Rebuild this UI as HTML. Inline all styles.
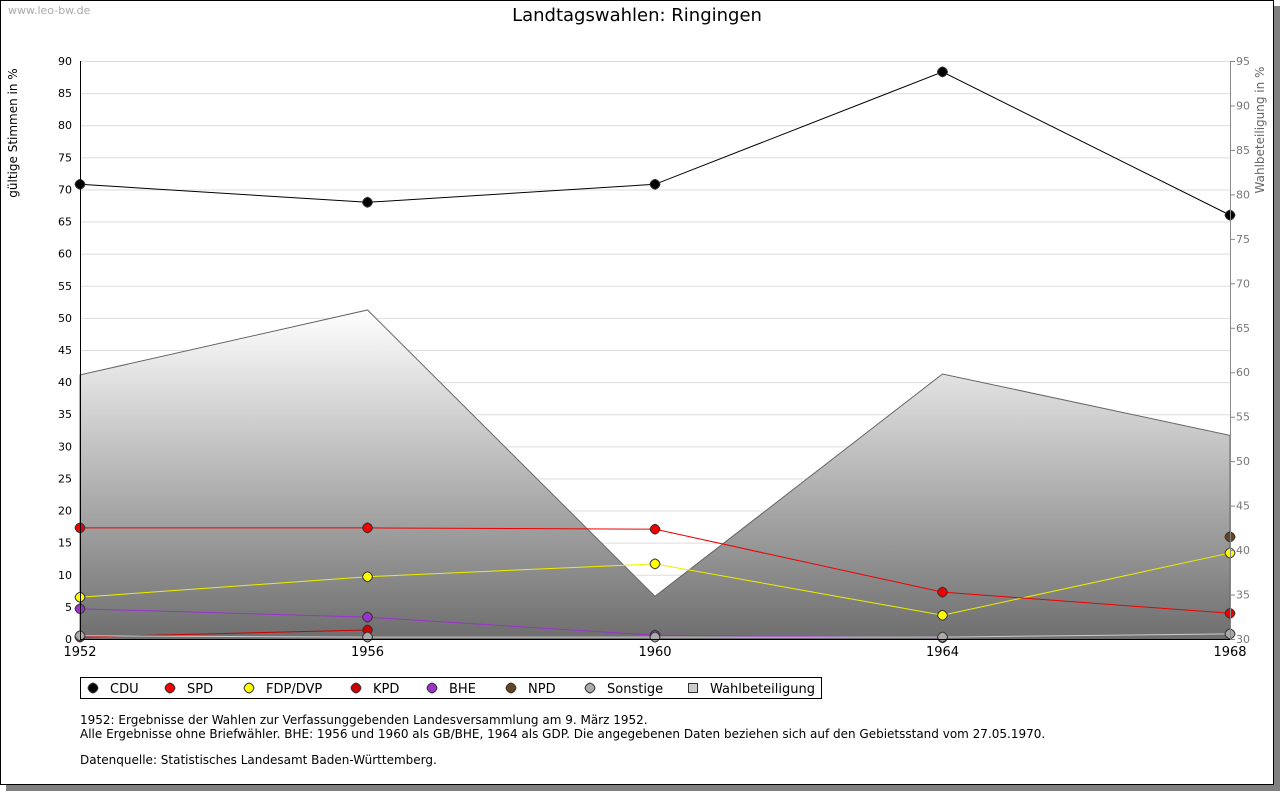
<!DOCTYPE html>
<html><head><meta charset="utf-8"><style>
body{margin:0;background:#fff;width:1280px;height:791px;overflow:hidden;font-family:"Liberation Sans","DejaVu Sans",sans-serif}
svg text{font-family:"DejaVu Sans","Liberation Sans",sans-serif}
</style></head><body>
<svg id="c" width="1280" height="791" xmlns="http://www.w3.org/2000/svg">
<defs>
<linearGradient id="wg" gradientUnits="userSpaceOnUse" x1="0" y1="310" x2="0" y2="639"><stop offset="0" stop-color="#ffffff"/><stop offset="1" stop-color="#6e6e6e"/></linearGradient></defs>
<rect x="6" y="6" width="1274" height="785" fill="#808080"/>
<rect x="0.5" y="0.5" width="1273" height="784" fill="#fff" stroke="#000"/>
<text x="8" y="14" font-size="11" fill="#aaa">www.leo-bw.de</text>
<text x="637" y="21" font-size="18" text-anchor="middle">Landtagswahlen: Ringingen</text>
<g id="grid"></g>
<g id="area"></g>
<g id="lines"></g>
<g id="axes"></g>
<text transform="translate(17,133) rotate(-90)" font-size="12" text-anchor="middle">gültige Stimmen in %</text>
<text transform="translate(1264,130) rotate(-90)" font-size="12" fill="#666" text-anchor="middle">Wahlbeteiligung in %</text>
<g>
<rect x="80.5" y="677.5" width="741" height="21" fill="#fff" stroke="#000"/>
<g id="leg"></g></g>
<g font-size="12">
<text x="80" y="724">1952: Ergebnisse der Wahlen zur Verfassunggebenden Landesversammlung am 9. März 1952.</text>
<text x="80" y="738">Alle Ergebnisse ohne Briefwähler. BHE: 1956 und 1960 als GB/BHE, 1964 als GDP. Die angegebenen Daten beziehen sich auf den Gebietsstand vom 27.05.1970.</text>
<text x="80" y="764">Datenquelle: Statistisches Landesamt Baden-Württemberg.</text></g>
</svg>
<script>
const years=[1952,1956,1960,1964,1968];
const cdu=[70.8,68.0,70.8,88.3,66.0];
const spd=[17.3,17.3,17.1,7.3,4.0];
const fdp=[6.5,9.7,11.7,3.7,13.4];
const kpd=[0.3,1.4,null,null,null];
const bhe=[4.7,3.4,0.6,0.2,null];
const npd=[null,null,null,null,15.9];
const sonst=[0.5,0.3,0.3,0.3,0.8];
const turnout=[59.7,67.0,34.8,59.8,52.9];
const leftTicks=[0,5,10,15,20,25,30,35,40,45,50,55,60,65,70,75,80,85,90];
const rightTicks=[30,35,40,45,50,55,60,65,70,75,80,85,90,95];
const NS='http://www.w3.org/2000/svg';
const X0=80,X1=1230,YB=639,YT=61;
const x=i=>X0+(years[i]-years[0])/(years[years.length-1]-years[0])*(X1-X0);
const y=v=>YB-v/90*(YB-YT);
const y2=v=>YB-(v-30)/65*(YB-YT);
function mk(t,a,p){const e=document.createElementNS(NS,t);for(const k in a)e.setAttribute(k,a[k]);document.getElementById(p).appendChild(e);return e;}
leftTicks.forEach(v=>{const l=mk('line',{x1:X0,x2:X1,y1:y(v)+.5,y2:y(v)+.5,stroke:'#ddd'},'grid');


const t=mk('text',{x:72,y:y(v)+4,'font-size':11,'text-anchor':'end'},'axes');t.textContent=v;

});
rightTicks.forEach(v=>{mk('line',{x1:X1,x2:X1+5,y1:y2(v)+.5,y2:y2(v)+.5,stroke:'#888'},'axes');
const t=mk('text',{x:X1+6,y:y2(v)+4,'font-size':11,fill:'#777'},'axes');t.textContent=v;

});
let pts=turnout.map((v,i)=>x(i)+','+y2(v)).join(' ');
const ar=mk('polygon',{points:X0+','+YB+' '+pts+' '+X1+','+YB,fill:'url(#wg)',stroke:'#666'},'area');


mk('line',{x1:X0+.5,x2:X0+.5,y1:YT,y2:YB,stroke:'#000'},'axes');
mk('line',{x1:X1+.5,x2:X1+.5,y1:YT,y2:YB,stroke:'#888'},'axes');
mk('line',{x1:X0,x2:X1,y1:YB+.5,y2:YB+.5,stroke:'#000'},'axes');
years.forEach((yr,i)=>{const t=mk('text',{x:x(i),y:656,'font-size':13,'text-anchor':'middle'},'axes');t.textContent=yr;

});
const series=[['CDU',cdu,'#000','#000'],['SPD',spd,'#e00','#e00'],['FDP/DVP',fdp,'#ff0','#ee0'],['KPD',kpd,'#c00','#c00'],['BHE',bhe,'#93c','#93c'],['NPD',npd,'#642','#642'],['Sonstige',sonst,'#aaa','#ccc']];
function diamond(cx,cy,fill,p){return mk('path',{d:`M${cx} ${cy-5}Q${cx+4} ${cy-4} ${cx+5} ${cy}Q${cx+4} ${cy+4} ${cx} ${cy+5}Q${cx-4} ${cy+4} ${cx-5} ${cy}Q${cx-4} ${cy-4} ${cx} ${cy-5}Z`,fill:fill,stroke:'#333','stroke-width':1},p);}
const order=[5,4,3,2,1,0,6];
order.forEach(k=>{const [n,d,f,lc]=series[k];let s='';d.forEach((v,i)=>{if(v!=null)s+=(s?'L':'M')+x(i)+' '+y(v);});
const l=mk('path',{d:s,fill:'none',stroke:lc,'stroke-width':1},'lines');


d.forEach((v,i)=>{if(v==null)return;const m=diamond(x(i),y(v),f,'lines');

});});
const legX=[93,170,249,356,432,511,590];
series.forEach(([n,d,f],i)=>{const m=diamond(legX[i],688,f,'leg');


const t=mk('text',{x:legX[i]+17,y:693,'font-size':13},'leg');t.textContent=n;

});
const r=mk('rect',{x:688.5,y:683.5,width:9,height:9,fill:'#ccc',stroke:'#333'},'leg');


const t=mk('text',{x:710,y:693,'font-size':13},'leg');t.textContent='Wahlbeteiligung';


</script>
</body></html>
